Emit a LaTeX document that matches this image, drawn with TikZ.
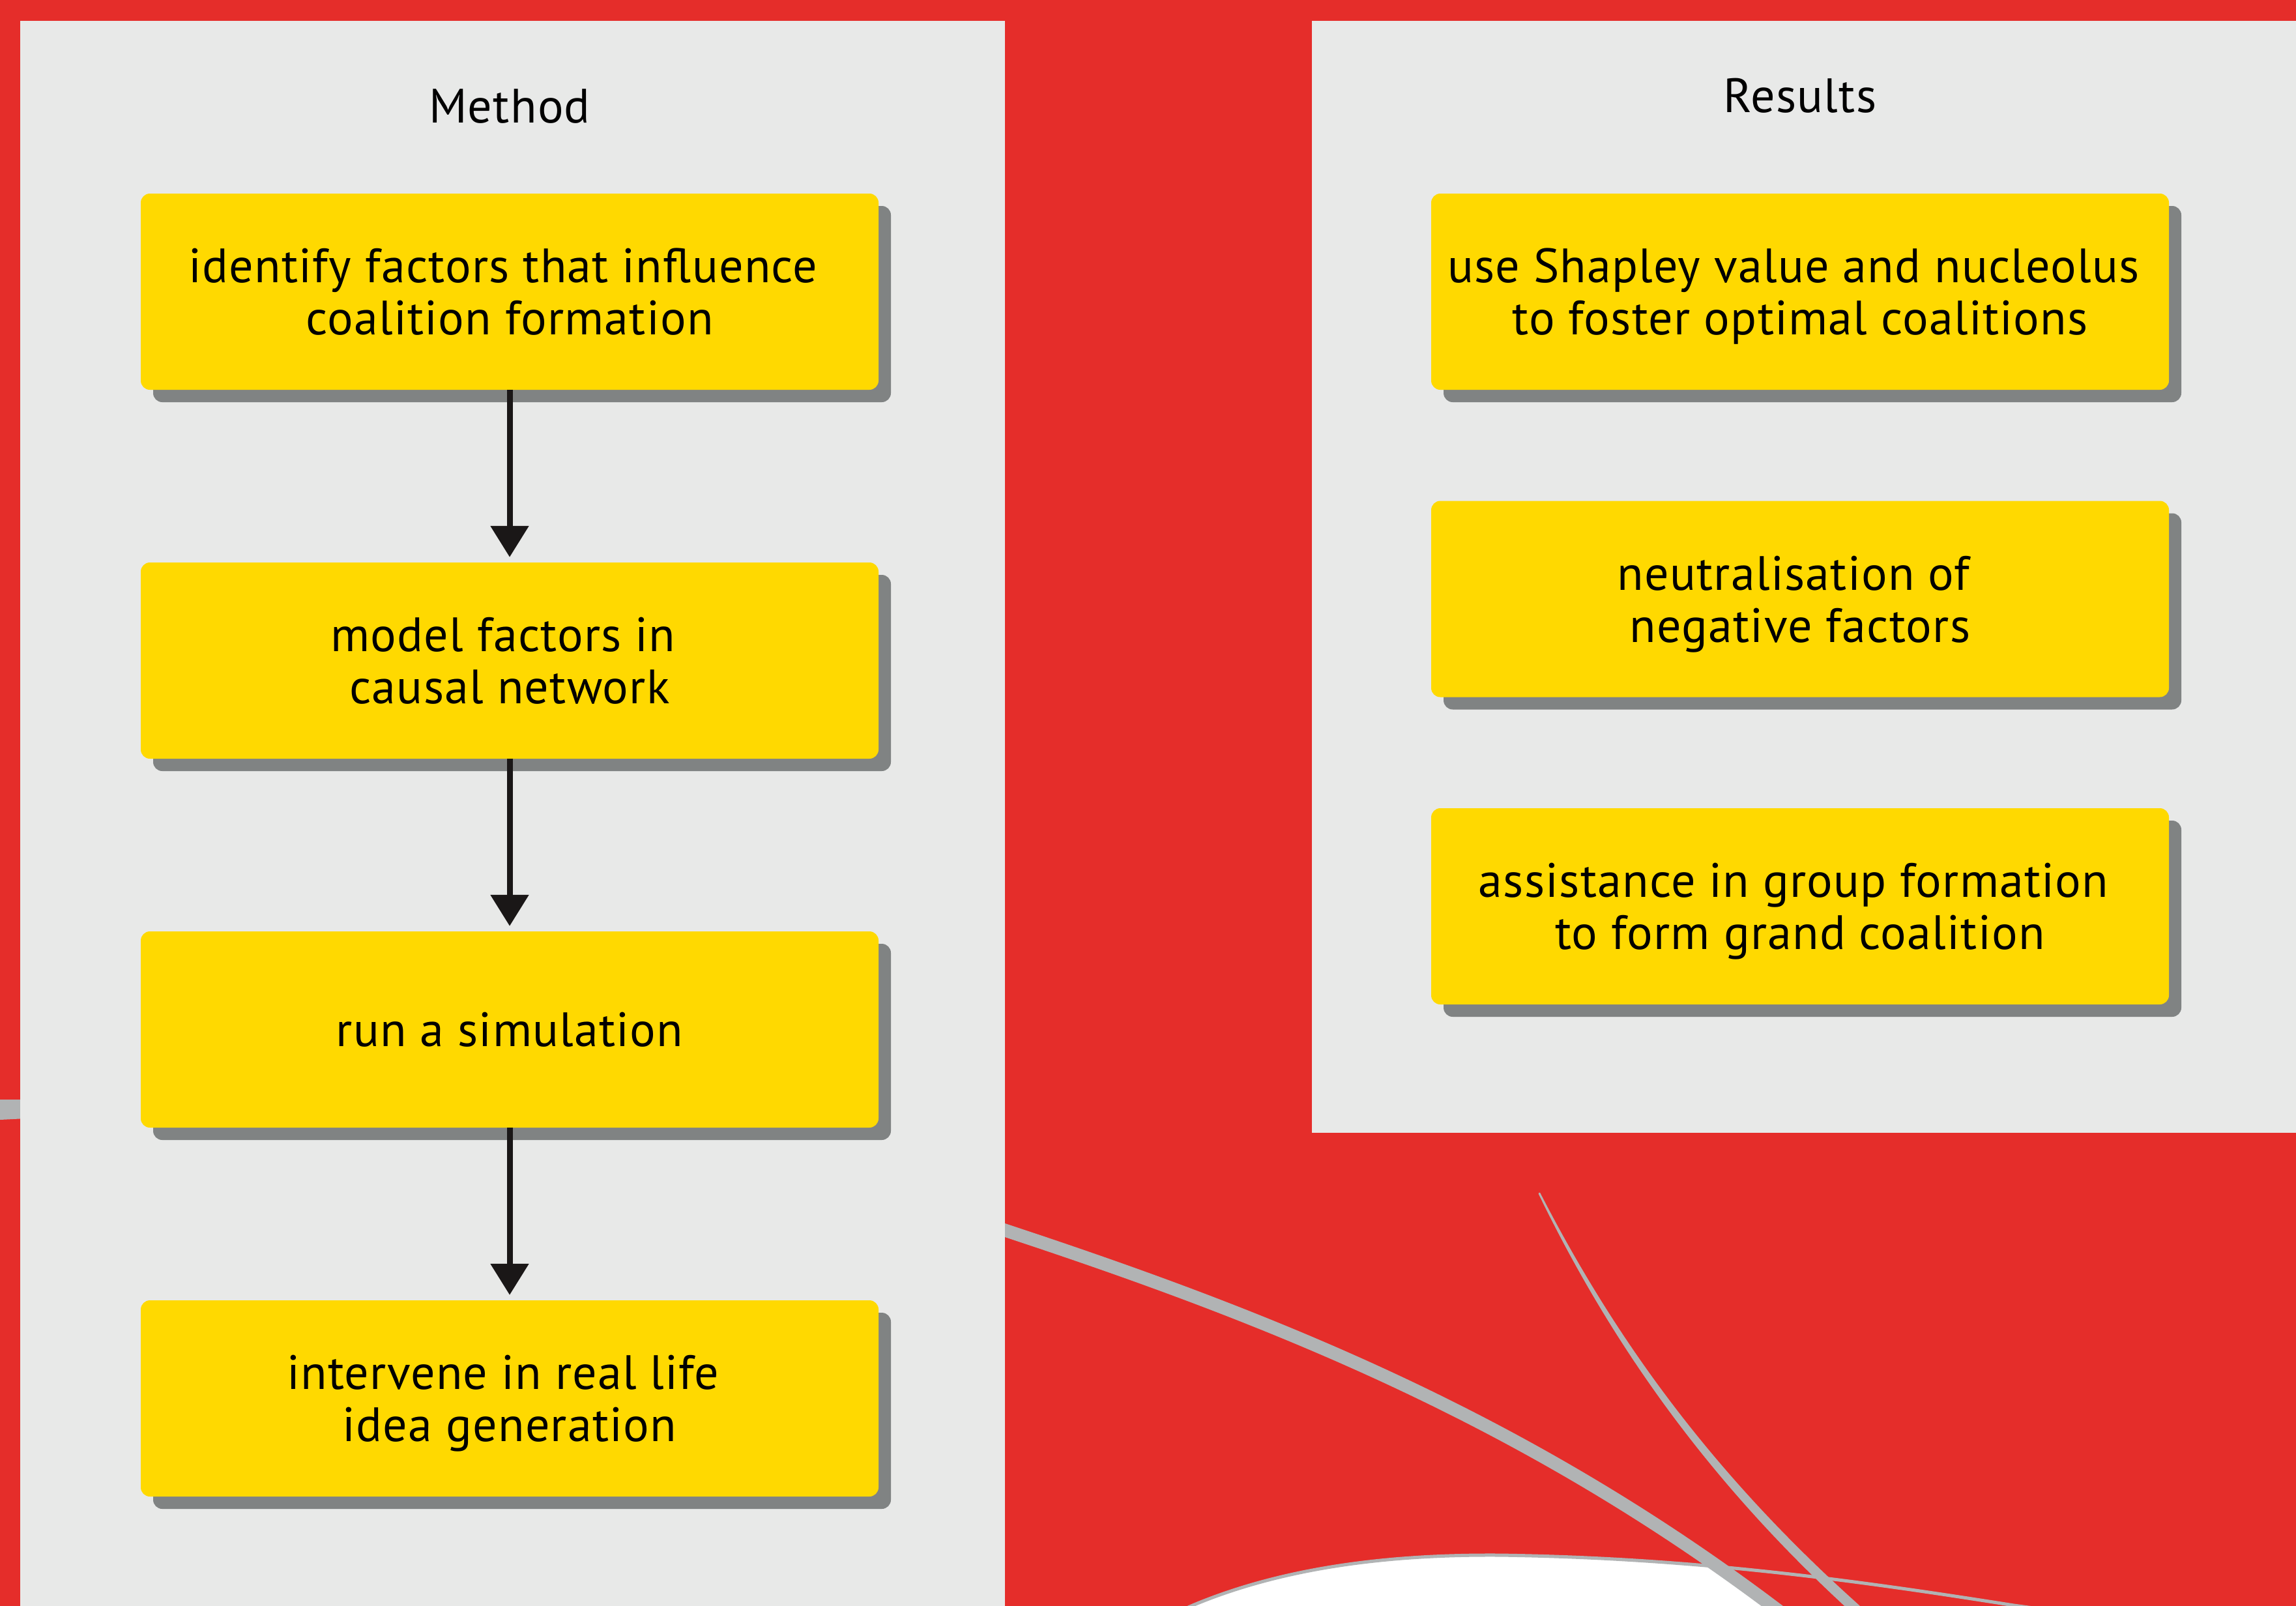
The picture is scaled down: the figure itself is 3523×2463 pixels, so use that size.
\documentclass[tikz,border=0pt]{standalone}
\usepackage{fontspec}
\setmainfont[LetterSpace=1.7]{PT Sans}
\usetikzlibrary{arrows.meta,shadows}
\definecolor{bgred}{RGB}{229,45,42}
\definecolor{panelgray}{RGB}{232,233,232}
\definecolor{boxyellow}{RGB}{255,217,0}
\definecolor{shadowgray}{RGB}{128,131,131}
\definecolor{curvegray}{RGB}{177,179,180}
\definecolor{arrowblack}{RGB}{26,23,23}
\newcommand\mybxfont{\fontsize{74}{80}\selectfont}
\newcommand\trailsp{\kern20pt}
\begin{document}
\begin{tikzpicture}[x=1pt,y=-1pt,
  stepbox/.style={rectangle, rounded corners=14pt, fill=boxyellow,
    minimum width=1132pt, minimum height=301pt, inner sep=0pt,
    align=center, text depth=0pt, font=\mybxfont,
    drop shadow={shadow xshift=19pt, shadow yshift=-19pt, fill=shadowgray, opacity=1}},
  titletext/.style={font=\mybxfont, inner sep=0pt, anchor=base},
  flowarrow/.style={draw=arrowblack, line width=9pt,
    -{Triangle[length=48pt,width=57pt]}, shorten >=8pt},
  curveline/.style={draw=curvegray}
]
\useasboundingbox (0,0) rectangle (3523,2463);
% background
\fill[bgred] (-5,-5) rectangle (3530,2470);
% white shape at bottom, clipped by thick curve
\begin{scope}
  \clip (1700,2350) -- (2561,2350) -- (2632,2400) -- (2718,2463) -- (2752,2488) -- (1700,2488) -- cycle;
  \fill[white] (1800,2480) -- (1830,2463) .. controls (1980,2400) and (2150,2385) .. (2300,2386)
     .. controls (2600,2390) and (2850,2425) .. (3090,2463) -- (3120,2480) -- cycle;
\end{scope}
\draw[curveline, line width=5pt] (1800,2476) -- (1830,2463) .. controls (1980,2400) and (2150,2385) .. (2300,2386)
     .. controls (2600,2390) and (2850,2425) .. (3090,2463) -- (3120,2467);
% thick curve
\fill[curvegray] (-20,1687) -- (40,1687) -- (40,1716) -- (-20,1719) -- cycle;
\draw[curveline, line width=20pt] (0,1703) .. controls (514,1700) and (1028,1718) .. (1542,1887.5)
   .. controls (1934,2017) and (2326,2169) .. (2718,2463) -- (2758,2493);
% tapered thin curve
\fill[curvegray] (2363.3,1830.3) .. controls (2470.6,2039.2) and (2614.4,2248.2) .. (2846.4,2457.1)
   -- (2868.4,2477.1) -- (2857.6,2488.9) -- (2835.6,2468.9)
   .. controls (2605.6,2257.8) and (2463.4,2042.8) .. (2360.7,1831.7) -- cycle;
\fill[curvegray] (2362,1831) circle (1.5pt);
% panels
\fill[panelgray] (31,32) rectangle (1542,2470);
\fill[panelgray] (2013,32) rectangle (3530,1738);
% titles
\node[titletext] (mt) at (782,188) {Method};
\node[titletext] (rt) at (2762,172) {Results};
% method boxes
\node[stepbox] (m1) at (782,447.5) {identify factors that influence\trailsp\\coalition formation};
\node[stepbox] (m2) at (782,1013.5) {model factors in\trailsp\\causal network};
\node[stepbox] (m3) at (782,1579.5) {run a simulation};
\node[stepbox] (m4) at (782,2145.5) {intervene in real life\trailsp\\idea generation};
% result boxes
\node[stepbox] (r1) at (2762,447.5) {use Shapley value and nucleolus\trailsp\\to foster optimal coalitions};
\node[stepbox] (r2) at (2762,919) {neutralisation of\trailsp\\negative factors};
\node[stepbox] (r3) at (2762,1390.5) {assistance in group formation\trailsp\\to form grand coalition};
% arrows
\draw[flowarrow] (m1.south) -- (m2.north);
\draw[flowarrow] (m2.south) -- (m3.north);
\draw[flowarrow] (m3.south) -- (m4.north);
\end{tikzpicture}
\end{document}
